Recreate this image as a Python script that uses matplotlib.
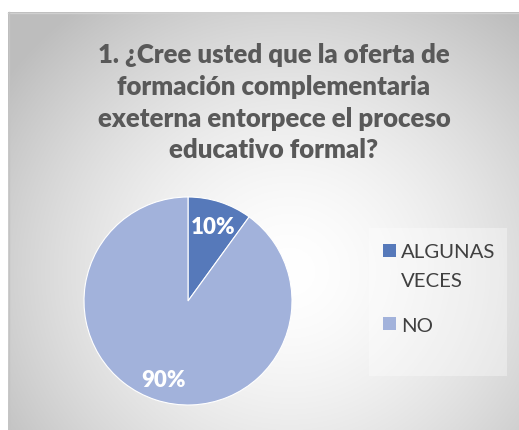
import matplotlib
matplotlib.use("Agg")
import matplotlib.pyplot as plt
import numpy as np
from matplotlib.patches import Rectangle

categories = ["ALGUNAS\nVECES", "NO"]
values = [10, 90]
labels = ["10%", "90%"]
colors = ["#5679BA", "#A2B2DB"]
title_lines = ["1. ¿Cree usted que la oferta de", "formación complementaria",
               "exeterna entorpece el proceso", "educativo formal?"]

W, H = 519, 431
fig = plt.figure(figsize=(W/100, H/100), dpi=100)
fig.patch.set_facecolor("white")

def fx(x):
    return x / W

def fy(y):
    return 1 - y / H

# background gradient (frame area)
bg = fig.add_axes([fx(8), 0, 1 - fx(8), fy(13)])
ny, nx = 300, 400
yy, xx = np.mgrid[0:ny, 0:nx]
cx, cy = nx*0.55, ny*0.62
d = np.sqrt(((xx-cx)/(nx*0.62))**2 + ((yy-cy)/(ny*0.72))**2)
v = 1 - 0.22*np.clip(d, 0, 1.1)**1.6
bg.imshow(np.dstack([v, v, v]), aspect="auto", extent=[0, 1, 0, 1], origin="upper")
bg.set_xlim(0, 1); bg.set_ylim(0, 1)
bg.axis("off")
fig.add_artist(plt.Line2D([fx(8), 1], [fy(13.5), fy(13.5)], color="#D0D0D0", lw=1))
fig.add_artist(plt.Line2D([fx(8.5), fx(8.5)], [0, fy(13)], color="#C4C4C4", lw=1))

for line, yb in zip(title_lines, [63, 95, 127, 158]):
    fig.text(fx(274), fy(yb), line, ha="center", va="baseline", fontsize=18.5,
             fontweight="heavy", color="#595959", family="Lato")

# pie
cxp, cyp, r = 188, 302, 104
ax = fig.add_axes([fx(cxp-r), fy(cyp+r), 2*r/W, 2*r/H])
wedges, _ = ax.pie(values, colors=colors, startangle=90, counterclock=False,
                   wedgeprops=dict(edgecolor="white", linewidth=0.8))
ax.set_aspect("auto")
ax.set_xlim(-1, 1); ax.set_ylim(-1, 1)
for lab, (px, py) in zip(labels, [(213, 228), (164, 381)]):
    ax.text((px-cxp)/r, -(py-cyp)/r, lab, ha="center", va="center",
            color="white", fontsize=16, fontweight="heavy", family="Lato")

# legend
fig.add_artist(Rectangle((fx(369), fy(377)), 138/W, 148/H, transform=fig.transFigure,
                         facecolor="white", alpha=0.35, edgecolor="none"))
leg_marker_y = [245, 318]
leg_text_y = [258, 332]
for c, lab, ym, yt in zip(colors, categories, leg_marker_y, leg_text_y):
    fig.add_artist(Rectangle((fx(383), fy(ym+13)), 13/W, 13/H, transform=fig.transFigure,
                             facecolor=c, edgecolor="none"))
    lines = lab.split("\n")
    for i, ln in enumerate(lines):
        fig.text(fx(401), fy(yt + i*29), ln, ha="left", va="baseline", fontsize=14.7,
                 color="#404040", family="Lato")

fig.savefig("out.png", dpi=100)
